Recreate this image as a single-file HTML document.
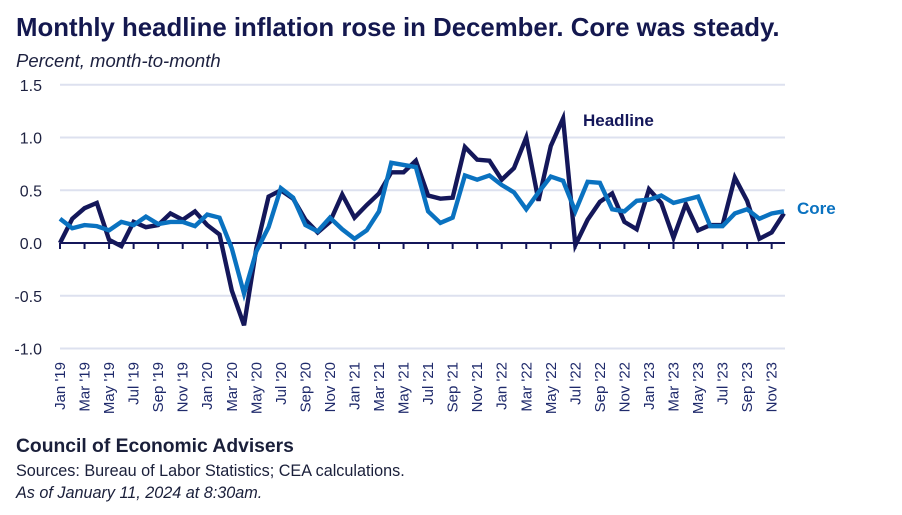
<!DOCTYPE html>
<html><head><meta charset="utf-8"><style>
body{margin:0;background:#fff;width:902px;height:515px;overflow:hidden;font-family:"Liberation Sans",sans-serif;}
svg{display:block}
</style></head><body>
<svg width="902" height="515">
<text x="16" y="36" font-size="25.8" font-weight="bold" fill="#14184f">Monthly headline inflation rose in December. Core was steady.</text>
<text x="16" y="67" font-size="18.5" font-style="italic" fill="#1d2140">Percent, month-to-month</text>
<g id="grid"></g><g id="yl"></g><g id="xl"></g><g id="series"></g>
<text x="583" y="126" font-size="17" font-weight="bold" fill="#14175a">Headline</text>
<text x="797" y="214" font-size="17" font-weight="bold" fill="#0a72c0">Core</text>
<text x="16" y="452" font-size="19.3" font-weight="bold" fill="#1a1f3a">Council of Economic Advisers</text>
<text x="16" y="476" font-size="16.2" fill="#1a1f3a">Sources: Bureau of Labor Statistics; CEA calculations.</text>
<text x="16" y="498" font-size="16.2" font-style="italic" fill="#1a1f3a">As of January 11, 2024 at 8:30am.</text>
</svg>
<script>
const months=["Jan","Feb","Mar","Apr","May","Jun","Jul","Aug","Sep","Oct","Nov","Dec"];
const years=["19","20","21","22","23"];
const yTicks=[1.5,1.0,0.5,0.0,-0.5,-1.0];
const headline=[0.0,0.23,0.33,0.38,0.03,-0.03,0.2,0.15,0.17,0.28,0.22,0.3,0.17,0.08,-0.45,-0.78,-0.05,0.44,0.5,0.42,0.22,0.1,0.2,0.46,0.24,0.36,0.47,0.67,0.67,0.78,0.45,0.42,0.43,0.91,0.79,0.78,0.6,0.71,1.0,0.4,0.92,1.18,-0.02,0.22,0.39,0.47,0.2,0.13,0.51,0.38,0.05,0.37,0.12,0.17,0.17,0.62,0.4,0.04,0.1,0.28];
const core=[0.23,0.14,0.17,0.16,0.12,0.2,0.17,0.25,0.18,0.2,0.2,0.16,0.27,0.24,-0.05,-0.48,-0.08,0.15,0.52,0.43,0.17,0.11,0.24,0.13,0.04,0.12,0.3,0.76,0.74,0.72,0.3,0.19,0.24,0.64,0.6,0.64,0.55,0.48,0.32,0.48,0.63,0.59,0.3,0.58,0.57,0.32,0.3,0.4,0.41,0.45,0.38,0.41,0.44,0.16,0.16,0.28,0.32,0.23,0.28,0.3];
const NS="http://www.w3.org/2000/svg";
const x0=60,dx=12.27,y0=243,ky=105.5;
const X=i=>x0+i*dx, Y=v=>y0-v*ky;
function mk(t,a,p){const e=document.createElementNS(NS,t);for(const k in a)e.setAttribute(k,a[k]);document.getElementById(p).appendChild(e);return e;}
yTicks.forEach(v=>{
 if(v!==0){const l=mk('line',{x1:60,x2:785,y1:Y(v),y2:Y(v),stroke:'#dde1ef','stroke-width':2},'grid');
 
 }
 const t=mk('text',{x:42,y:Y(v)+6,'text-anchor':'end','font-size':16,fill:'#1d2140'},'yl');
 t.textContent=v.toFixed(1);
 
 
});
const z=mk('line',{x1:60,x2:785,y1:y0,y2:y0,stroke:'#14175a','stroke-width':2},'grid');


for(let i=0;i<60;i+=2){
 const tk=mk('line',{x1:X(i),x2:X(i),y1:y0,y2:y0+6,stroke:'#14175a','stroke-width':2},'grid');
 
 
 const t=mk('text',{transform:`translate(${X(i)+5},362) rotate(-90)`,'text-anchor':'end','font-size':15,fill:'#1f2a6b'},'xl');
 t.textContent=months[i%12]+" '"+years[Math.floor(i/12)];
 
 
}
function line(d,c,n){const p=mk('polyline',{points:d.map((v,i)=>X(i)+','+Y(v)).join(' '),fill:'none',stroke:c,'stroke-width':4.4,'stroke-linejoin':'miter'},'series');
 
 }
line(headline,'#14175a','headline-line');
line(core,'#0a72c0','core-line');
</script>
</body></html>
